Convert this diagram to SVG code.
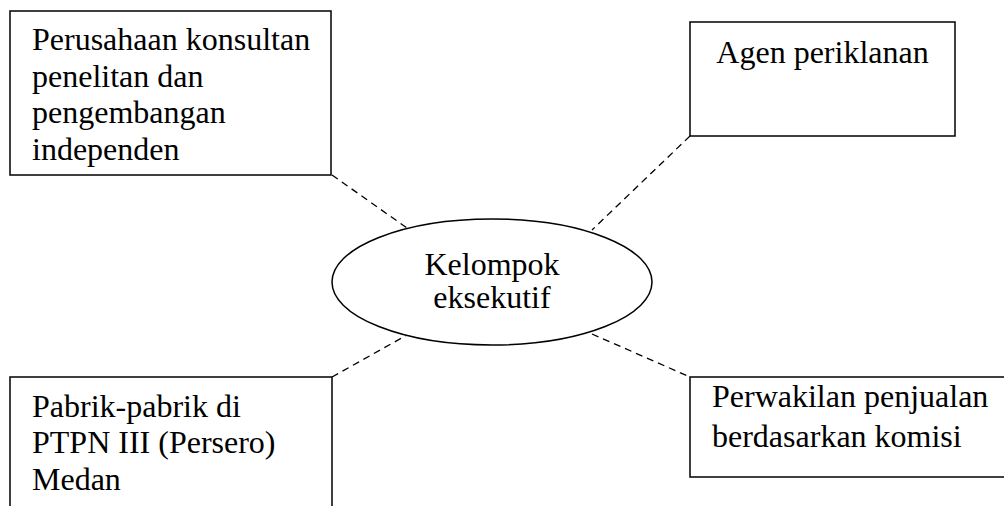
<svg xmlns="http://www.w3.org/2000/svg" width="1004" height="506" viewBox="0 0 1004 506">
<style>
.box{fill:#fff;stroke:#000;stroke-width:1.5}
.t{font-family:"Liberation Serif","Times New Roman",serif;font-size:32px;fill:#000}
.c{stroke:#000;stroke-width:1.3;stroke-dasharray:7 5;fill:none}
</style>
<rect width="1004" height="506" fill="#fff"/>
<g id="connectors">
<line class="c" x1="332" y1="175" x2="407" y2="228"/>
<line class="c" x1="690" y1="136" x2="592" y2="230"/>
<line class="c" x1="332" y1="377" x2="407" y2="335"/>
<line class="c" x1="592" y1="334" x2="690" y2="377"/>
</g>
<g id="node-konsultan">
<rect class="box" x="10" y="11" width="321" height="164"/>
<text class="t" x="32" y="50">Perusahaan konsultan</text>
<text class="t" x="32" y="87">penelitan dan</text>
<text class="t" x="32" y="123">pengembangan</text>
<text class="t" x="32" y="160">independen</text>
</g>
<g id="node-agen">
<rect class="box" x="690" y="22" width="265" height="114"/>
<text class="t" x="822.5" y="63" text-anchor="middle">Agen periklanan</text>
</g>
<g id="node-kelompok">
<ellipse class="box" cx="492" cy="282" rx="160" ry="63"/>
<text class="t" x="492" y="275" text-anchor="middle">Kelompok</text>
<text class="t" x="492" y="308" text-anchor="middle">eksekutif</text>
</g>
<g id="node-pabrik">
<rect class="box" x="10" y="377" width="322" height="140"/>
<text class="t" x="32" y="417">Pabrik-pabrik di</text>
<text class="t" x="32" y="453">PTPN III (Persero)</text>
<text class="t" x="32" y="490">Medan</text>
</g>
<g id="node-perwakilan">
<rect class="box" x="690" y="377" width="330" height="100"/>
<text class="t" x="712" y="407">Perwakilan penjualan</text>
<text class="t" x="712" y="447">berdasarkan komisi</text>
</g>
</svg>
